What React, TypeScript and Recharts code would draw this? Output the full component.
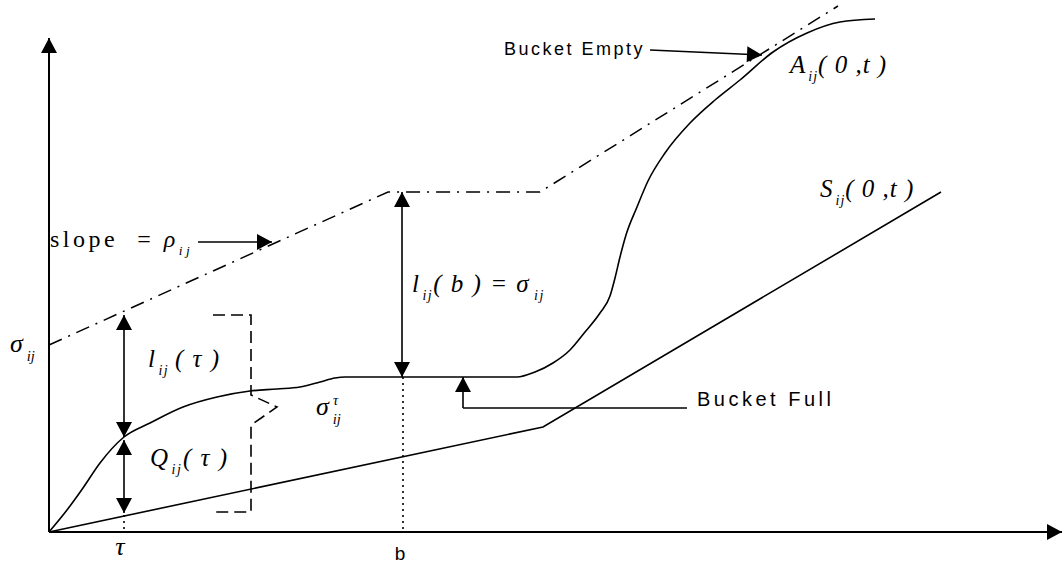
import React from "react"
import { ComposedChart, Line, XAxis, YAxis, ReferenceLine, ReferenceDot } from "recharts"

// coordinates: x = distance right of the origin, y = height above the time axis
const envelope = [
  { x: 0, y: 187 },
  { x: 339, y: 340 },
  { x: 491, y: 340 },
  { x: 789, y: 526 },
]

const arrivals = [
  { x: 0, y: 0 },
  { x: 18, y: 22 },
  { x: 34, y: 44 },
  { x: 51, y: 69 },
  { x: 75, y: 95 },
  { x: 101, y: 109 },
  { x: 134, y: 125 },
  { x: 168, y: 135 },
  { x: 201, y: 141 },
  { x: 228, y: 143 },
  { x: 251, y: 145 },
  { x: 271, y: 150 },
  { x: 286, y: 154 },
  { x: 296, y: 155 },
  { x: 468, y: 155 },
  { x: 486, y: 160 },
  { x: 504, y: 169 },
  { x: 521, y: 182 },
  { x: 536, y: 200 },
  { x: 551, y: 219 },
  { x: 561, y: 236 },
  { x: 566, y: 254 },
  { x: 571, y: 275 },
  { x: 577, y: 297 },
  { x: 588, y: 325 },
  { x: 599, y: 351 },
  { x: 616, y: 379 },
  { x: 641, y: 409 },
  { x: 666, y: 432 },
  { x: 691, y: 452 },
  { x: 724, y: 480 },
  { x: 758, y: 499 },
  { x: 791, y: 510 },
  { x: 826, y: 513 },
]

const service = [
  { x: 0, y: 0 },
  { x: 494, y: 105 },
  { x: 892, y: 340 },
]

const bracket = [
  { x: 164, y: 217 },
  { x: 202, y: 217 },
  { x: 202, y: 137 },
  { x: 228, y: 125 },
  { x: 202, y: 107 },
  { x: 202, y: 20 },
  { x: 164, y: 20 },
]

type Seg = { from: [number, number]; to: [number, number]; heads: "none" | "end" | "both"; width?: number }

const arrows: Seg[] = [
  { from: [0, 0], to: [0, 494], heads: "end", width: 2 },
  { from: [0, 0], to: [1013, 0], heads: "end", width: 2 },
  { from: [75, 217], to: [75, 95], heads: "both" },
  { from: [75, 92], to: [75, 19], heads: "both" },
  { from: [353, 340], to: [353, 155], heads: "both" },
  { from: [638, 124], to: [414, 124], heads: "none" },
  { from: [414, 124], to: [414, 155], heads: "end" },
  { from: [601, 482], to: [713, 477], heads: "end" },
  { from: [149, 290], to: [223, 290], heads: "end" },
]

const dotted: Seg[] = [
  { from: [354, 155], to: [354, 0], heads: "none" },
  { from: [75, 17], to: [75, 0], heads: "none" },
]

type Part = [string, "i" | "u" | "sub" | "sup", number?]
type Note = { x: number; y: number; parts: Part[]; size: number; font: string; anchor?: string; spacing?: number }

const notes: Note[] = [
  { x: -39, y: 180, size: 26, font: "serif", parts: [["σ", "i"], ["ij", "sub", 4]] },
  { x: 99, y: 165, size: 25, font: "serif", spacing: 1.5, parts: [["l", "i"], ["ij", "sub", 2]], },
  { x: 126, y: 165, size: 25, font: "serif", spacing: 1.5, parts: [["( τ )", "i"]] },
  { x: 101, y: 66, size: 25, font: "serif", spacing: 1.5, parts: [["Q", "i"], ["ij", "sub", 2]] },
  { x: 134, y: 66, size: 25, font: "serif", spacing: 1.5, parts: [["( τ )", "i"]] },
  { x: 267, y: 117, size: 26, font: "serif", parts: [["σ", "i"], ["ij", "sub", 4], ["τ", "sup", -8]] },
  { x: 363, y: 240, size: 25, font: "serif", spacing: 1.5, parts: [["l", "i"], ["ij", "sub", 2], ["( b ) = ", "i"], ["σ", "i"], ["ij", "sub", 4]] },
  { x: 1, y: 285, size: 24, font: "serif", spacing: 3.5, parts: [["slope  = ", "u"], ["ρ", "i"], ["ij", "sub", 0]] },
  { x: 741, y: 459, size: 25, font: "serif", spacing: 1, parts: [["A", "i"], ["ij", "sub", 2], ["( 0 ,t )", "i"]] },
  { x: 771, y: 335, size: 25, font: "serif", spacing: 1, parts: [["S", "i"], ["ij", "sub", 2], ["( 0 ,t )", "i"]] },
  { x: 71, y: -23, size: 26, font: "serif", anchor: "middle", parts: [["τ", "i"]] },
  { x: 351, y: -28, size: 19, font: "sans", anchor: "middle", parts: [["b", "u"]] },
  { x: 648, y: 126, size: 20, font: "sans", spacing: 3.5, parts: [["Bucket Full", "u"]] },
  { x: 596, y: 477, size: 18, font: "sans", spacing: 2.5, anchor: "end", parts: [["Bucket Empty", "u"]] },
]

const head = (x: number, y: number, ang: number, k: string) => {
  const len = 15
  const hw = 8
  const bx = x - len * Math.cos(ang)
  const by = y - len * Math.sin(ang)
  const px = -Math.sin(ang) * hw
  const py = Math.cos(ang) * hw
  return <polygon key={k} points={`${x},${y} ${bx + px},${by + py} ${bx - px},${by - py}`} fill="#000" />
}

const arrowShape = (seg: Seg) => (props: any) => {
  const { x1, y1, x2, y2 } = props
  const ang = Math.atan2(y2 - y1, x2 - x1)
  return (
    <g>
      <line x1={x1} y1={y1} x2={x2} y2={y2} stroke="#000" strokeWidth={seg.width ?? 1.6} />
      {seg.heads !== "none" && head(x2, y2, ang, "e")}
      {seg.heads === "both" && head(x1, y1, ang + Math.PI, "s")}
    </g>
  )
}

const noteShape = (n: Note) => (props: any) => {
  const { cx, cy } = props
  const family = n.font === "sans" ? "'Liberation Sans', Arial, sans-serif" : "'Liberation Serif', 'Times New Roman', serif"
  let cur = 0
  return (
    <text x={cx} y={cy} fill="#000" textAnchor={n.anchor ?? "start"}
      style={{ whiteSpace: "pre", fontFamily: family, fontSize: n.size, letterSpacing: n.spacing ?? 0 }}>
      {n.parts.map(([t, kind, dx], i) => {
        const target = kind === "sub" ? n.size * 0.33 : kind === "sup" ? -n.size * 0.4 : 0
        const dy = target - cur
        cur = target
        const small = kind === "sub" || kind === "sup"
        return (
          <tspan key={i} dy={dy} dx={dx ?? 0}
            style={{ fontSize: small ? n.size * 0.56 : n.size, fontStyle: kind === "u" ? "normal" : "italic" }}>
            {t}
          </tspan>
        )
      })}
    </text>
  )
}

export default function App() {
  return (
    <div style={{ position: "absolute", left: 0, top: 0, background: "#fff" }}>
      <ComposedChart width={1063} height={569} margin={{ top: 0, right: 0, bottom: 0, left: 0 }}>
        <XAxis type="number" dataKey="x" domain={[-49, 1014]} hide allowDataOverflow />
        <YAxis type="number" dataKey="y" domain={[-37, 532]} hide allowDataOverflow />

        {arrows.map((s, i) => (
          <ReferenceLine key={"a" + i} segment={[{ x: s.from[0], y: s.from[1] }, { x: s.to[0], y: s.to[1] }]}
            shape={arrowShape(s)} ifOverflow="visible" />
        ))}
        {dotted.map((s, i) => (
          <ReferenceLine key={"d" + i} segment={[{ x: s.from[0], y: s.from[1] }, { x: s.to[0], y: s.to[1] }]}
            stroke="#000" strokeWidth={1.6} strokeDasharray="2 4" ifOverflow="visible" />
        ))}

        <Line data={envelope} dataKey="y" type="linear" stroke="#000" strokeWidth={1.5}
          strokeDasharray="14 7 2 7" dot={false} activeDot={false} isAnimationActive={false} />
        <Line data={arrivals} dataKey="y" type="monotone" stroke="#000" strokeWidth={1.6}
          dot={false} activeDot={false} isAnimationActive={false} />
        <Line data={service} dataKey="y" type="linear" stroke="#000" strokeWidth={1.6}
          dot={false} activeDot={false} isAnimationActive={false} />
        <Line data={bracket} dataKey="y" type="linear" stroke="#000" strokeWidth={1.6}
          strokeDasharray="12 6" dot={false} activeDot={false} isAnimationActive={false} />

        {notes.map((n, i) => (
          <ReferenceDot key={"n" + i} x={n.x} y={n.y} r={0} shape={noteShape(n)} ifOverflow="visible" />
        ))}
      </ComposedChart>
    </div>
  )
}
